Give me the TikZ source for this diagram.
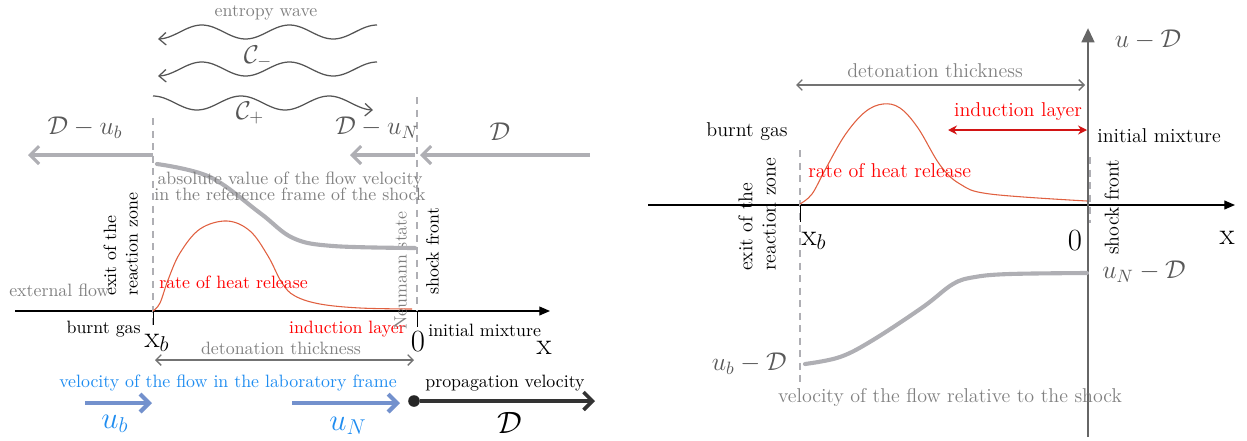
\documentclass[tikz,border=0pt]{standalone}
\usepackage{amsmath}
\usepackage{amssymb}
\usepackage{fontspec}
\usetikzlibrary{positioning, arrows.meta, calc}
\usepackage{xcolor}
\definecolor{heat}{RGB}{224,96,64}
\definecolor{labblue}{RGB}{30,140,240}
\definecolor{velarrow}{RGB}{115,145,205}
\definecolor{lightline}{RGB}{175,175,180}
\definecolor{darkwave}{RGB}{85,85,85}
\definecolor{indred}{RGB}{210,20,20}

\begin{document}
\begin{tikzpicture}[x=0.56pt, y=-0.56pt,
  graytxt/.style={text=black!50},
  rtxt/.style={font=\fontsize{11.2}{13}\selectfont},
  mathgray/.style={text=black!65, font=\Large},
  biglab/.style={font=\LARGE},
  axisline/.style={black, line width=0.7pt, -{Triangle[length=6pt, width=5pt]}},
  shockdash/.style={lightline, line width=1.3pt, dash pattern=on 4pt off 3pt},
  flowline/.style={lightline, line width=2.3pt, line cap=round},
  fastarrow/.style={lightline, line width=1.7pt, -{Straight Barb[length=5pt, width=10pt]}},
  wave/.style={darkwave, line width=0.7pt, -{Straight Barb[length=4pt, width=7pt]}},
  thickarrow/.style={black!55, line width=0.7pt, {Straight Barb[length=3pt, width=6pt]}-{Straight Barb[length=3pt, width=6pt]}},
  labarrow/.style={velarrow, line width=2.3pt, -{Straight Barb[length=5pt, width=10pt]}},
  rotlab/.style={rotate=90, align=left, anchor=south west, inner sep=1pt}]
\useasboundingbox (0,0) rectangle (1247,440);

% ---------------- left: laboratory frame ----------------
\coordinate (xb) at (153,311);
\coordinate (x0) at (417,311);
\draw[axisline] (15,311) -- (550,311);
\draw[shockdash] ($(xb)+(0,-193)$) -- ($(xb)+(0,15)$);
\draw[shockdash] ($(x0)+(0,-214)$) -- (x0);
\draw (xb) -- ++(0,14);
\draw (x0) -- ++(0,16);

\node[biglab] (xblab) at (157,343) {$\mathrm{x}_b$};
\node[biglab] (zero) at (418,342) {0};
\node[biglab] (xlab) at (544,348) {x};
\node[anchor=east] (burnt) at (147,329) {burnt gas};
\node[anchor=east, text=red] (induct) at (412,329) {induction layer};
\node[anchor=west] (initial) at (422,330) {initial mixture};
\node[anchor=west, graytxt] (external) at (3,290) {external flow};
\node[rotlab] (exit) at (140,298) {exit of the\\reaction zone};
\node[rotlab, graytxt] (neumann) at (409,332) {Neumann state};
\node[rotlab] (shock) at (441,297) {shock front};

% flow velocity relative to the shock
\draw[flowline] plot[smooth, tension=0.6] coordinates {(157,164) (210,177) (260,213) (293,238) (333,246) (415,248)};
\node[graytxt, align=center] (absval) at (290,186) {absolute value of the flow velocity\\[-3pt]in the reference frame of the shock};

% heat release
\draw[heat, line width=0.6pt] plot[smooth, tension=0.6] coordinates {(153,311) (160,303) (168,280) (180,253) (200,229) (227,221) (250,231) (268,256) (282,283) (295,296) (320,304) (360,308) (412,309)};
\node[anchor=west, text=red] (rate) at (153,282) {rate of heat release};

% velocities in the shock frame
\draw[fastarrow] ($(xb)+(0,-156)$) -- (28,155);
\draw[fastarrow] ($(x0)+(-2,-156)$) -- (350,155);
\draw[fastarrow] (590,155) -- ($(x0)+(3,-156)$);
\node[mathgray] (dub) at (85,128) {$\mathcal{D}-u_b$};
\node[mathgray] (dun) at (377,128) {$\mathcal{D}-u_N$};
\node[mathgray] (dd) at (500,132) {$\mathcal{D}$};

% waves
\draw[wave] plot[domain=377:158, samples=80, smooth] (\x, {32-7*cos((377-\x)*4.11)});
\draw[wave] plot[domain=377:158, samples=80, smooth] (\x, {69-7*cos((377-\x)*4.11)});
\draw[wave] plot[domain=153:373, samples=80, smooth] (\x, {103-7*cos((\x-153)*4.09)});
\node[graytxt] (entropy) at (266,13) {entropy wave};
\node[text=darkwave, font=\Large] (cminus) at (258,57) {$\mathcal{C}_-$};
\node[text=darkwave, font=\Large] (cplus) at (250,113) {$\mathcal{C}_+$};

% thickness
\draw[thickarrow] ($(xb)+(2,49)$) -- ($(x0)+(-3,49)$);
\node[graytxt] (thick) at (281,348) {detonation thickness};

% laboratory frame
\node[text=labblue] (labtxt) at (228,383) {velocity of the flow in the laboratory frame};
\draw[labarrow] (85,403) -- (152,403);
\node[biglab, text=labblue] (ub) at (115,424) {$u_b$};
\draw[labarrow] (292,403) -- (400,403);
\node[biglab, text=labblue] (un) at (348,426) {$u_N$};
\node[circle, fill=black!85, inner sep=0pt, minimum size=6.5pt] (dot) at (414,401) {};
\draw[black!80, line width=2pt, -{Straight Barb[length=5pt, width=10pt]}] (dot) -- (595,401);
\node (prop) at (505,383) {propagation velocity};
\node[biglab] (dlab) at (510,423) {$\mathcal{D}$};

% ---------------- right: shock frame ----------------
\coordinate (rxb) at (800,205);
\coordinate (rx0) at (1088,205);
\draw[axisline] (648,205) -- (1235,205);
\draw[shockdash] ($(rxb)+(0,-55)$) -- ($(rxb)+(0,180)$);
\draw[shockdash] ($(rx0)+(2,-48)$) -- ($(rx0)+(2,18)$);
\draw (rxb) -- ++(0,17);
\draw (rx0) -- ++(0,15);
\draw[black!60, line width=1.6pt, -{Triangle[length=8pt, width=7pt]}] ($(rx0)+(0,232)$) -- ($(rx0)+(0,-177)$);
\node[mathgray] (udlab) at (1148,40) {$u-\mathcal{D}$};

\node[biglab] (rxblab) at (814,241) {$\mathrm{x}_b$};
\node[biglab] (rzero) at (1075,241) {0};
\node[biglab] (rxlab) at (1227,238) {x};
\node[rotlab, rtxt] (rexit) at (778,273) {exit of the\\reaction zone};
\node[rotlab, rtxt] (rshock) at (1121,257) {shock front};
\node[rtxt] (rburnt) at (747,132) {burnt gas};
\node[anchor=west, rtxt] (rinitial) at (1091,136) {initial mixture};

\draw[indred, line width=0.9pt, {Stealth[length=5pt, width=5pt]}-{Stealth[length=5pt, width=5pt]}] (948,130) -- ($(rx0)+(-1,-75)$);
\node[text=red, rtxt] (rinduct) at (1018,112) {induction layer};
\draw[thickarrow] (796,85) -- ($(rx0)+(-3,-120)$);
\node[graytxt, rtxt] (rthick) at (935,71) {detonation thickness};

\draw[heat, line width=0.6pt] plot[smooth, tension=0.6] coordinates {(800,204) (812,194) (825,170) (845,135) (865,112) (883,104) (900,108) (918,128) (940,165) (960,184) (990,194) (1087,201)};
\node[anchor=west, text=red, rtxt] (rrate) at (802,171) {rate of heat release};

\draw[flowline] plot[smooth, tension=0.6] coordinates {(805,364) (840,357) (873,340) (923,307) (953,284) (975,277) (1010,274) (1087,273)};
\node[mathgray, anchor=east] (ubd) at (793,364) {$u_b-\mathcal{D}$};
\node[mathgray, anchor=west] (und) at (1096,272) {$u_N-\mathcal{D}$};
\node[graytxt, rtxt] (relvel) at (950,397) {velocity of the flow relative to the shock};
\end{tikzpicture}
\end{document}
